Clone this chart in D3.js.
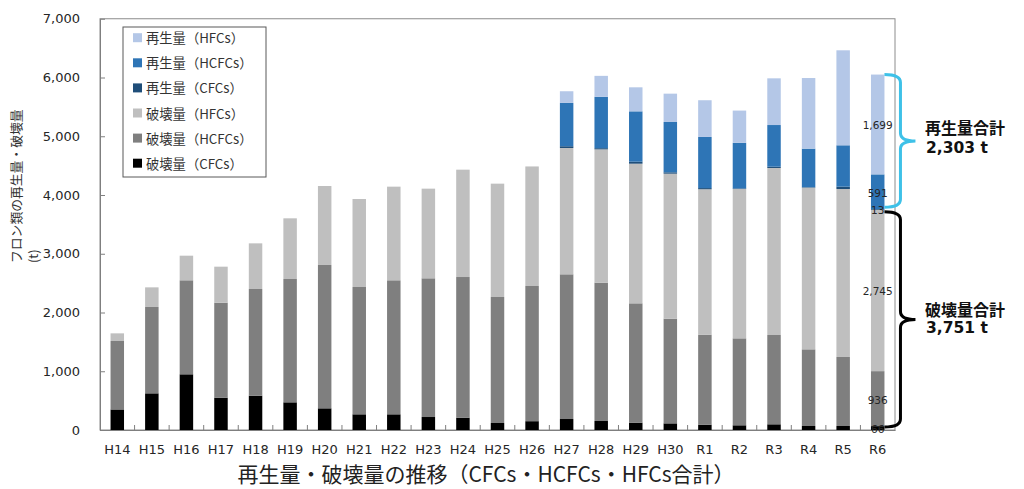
<!DOCTYPE html>
<html><head><meta charset="utf-8">
<script src="https://cdn.jsdelivr.net/npm/d3@7"></script>
<style>body{margin:0;background:#fff}svg{display:block}</style>
</head><body><svg id="c" width="1024" height="489"></svg>
<script>
const categories = ["H14","H15","H16","H17","H18","H19","H20","H21","H22","H23","H24","H25","H26","H27","H28","H29","H30","R1","R2","R3","R4","R5","R6"];
const destroyCFC  = [350,624,948,550,584,471,369,267,267,221,210,119,150,187,153,125,113,91,80,97,68,68,66];
const destroyHCFC = [1165,1470,1600,1617,1816,2099,2440,2167,2281,2361,2394,2145,2301,2463,2355,2031,1782,1532,1480,1520,1305,1175,936];
const destroyHFC  = [130,334,419,613,777,1033,1344,1498,1594,1526,1827,1929,2035,2150,2269,2377,2468,2475,2542,2843,2752,2859,2745];
const regenCFC    = [0,0,0,0,0,0,0,0,0,0,0,0,0,30,20,34,23,20,10,22,8,40,13];
const regenHCFC   = [0,0,0,0,0,0,0,0,0,0,0,0,0,737,874,857,857,870,775,709,656,704,591];
const regenHFC    = [0,0,0,0,0,0,0,0,0,0,0,0,0,199,357,409,482,625,550,795,1202,1617,1699];
const yTicks = [0,1000,2000,3000,4000,5000,6000,7000];
const seriesKeys = ["destroyCFC","destroyHCFC","destroyHFC","regenCFC","regenHCFC","regenHFC"];
const seriesNames = {regenHFC:"再生量（HFCs）",regenHCFC:"再生量（HCFCs）",regenCFC:"再生量（CFCs）",destroyHFC:"破壊量（HFCs）",destroyHCFC:"破壊量（HCFCs）",destroyCFC:"破壊量（CFCs）"};
const legendOrder = ["regenHFC","regenHCFC","regenCFC","destroyHFC","destroyHCFC","destroyCFC"];
const colors = {destroyCFC:"#000000",destroyHCFC:"#7f7f7f",destroyHFC:"#bfbfbf",regenCFC:"#1f4e79",regenHCFC:"#2e75b6",regenHFC:"#b4c7e7"};
const titleText = "再生量・破壊量の推移（CFCs・HCFCs・HFCs合計）";
const yLabelLines = ["フロン類の再生量・破壊量","(t)"];
const totalTitles = ["再生量合計","破壊量合計"];
const totalValues = ["2,303 t","3,751 t"];

const data = categories.map((c,i)=>({cat:c,destroyCFC:destroyCFC[i],destroyHCFC:destroyHCFC[i],destroyHFC:destroyHFC[i],regenCFC:regenCFC[i],regenHCFC:regenHCFC[i],regenHFC:regenHFC[i]}));
const svg = d3.select("#c");
const L=100,R=895,T=18.75,B=430;
const x = d3.scaleBand().domain(categories).range([L,R]).padding(0);
const y = d3.scaleLinear().domain([0,7000]).range([B,T]);
const barW = x.bandwidth()*0.39;
const stacked = d3.stack().keys(seriesKeys)(data);

// plot frame
svg.append("rect").attr("x",L).attr("y",T).attr("width",R-L).attr("height",B-T).attr("fill","none").attr("stroke","#8c8c8c").attr("stroke-width",1);

// bars
svg.append("g").selectAll("g").data(stacked).join("g").attr("fill",d=>colors[d.key])
  .selectAll("rect").data(d=>d).join("rect")
  .attr("x",d=>x(d.data.cat)+x.bandwidth()/2-barW/2).attr("width",barW)
  .attr("y",d=>y(d[1])).attr("height",d=>Math.max(0,y(d[0])-y(d[1])));

// y axis
const ya = svg.append("g").attr("transform",`translate(${L},0)`)
  .call(d3.axisLeft(y).tickValues(yTicks).tickFormat(d3.format(",")).tickSize(-5).tickSizeOuter(0).tickPadding(20));
ya.select(".domain").attr("stroke","#7f7f7f");
ya.selectAll(".tick line").attr("stroke","#7f7f7f");
ya.selectAll("text").attr("font-family","DejaVu Sans, Verdana, sans-serif").attr("font-size",13).attr("fill","#262626");

// x axis
const xa = svg.append("g").attr("transform",`translate(0,${B})`)
  .call(d3.axisBottom(x).tickSize(0).tickPadding(15).tickSizeOuter(0));
xa.select(".domain").attr("stroke","#7f7f7f");
xa.selectAll("text").attr("font-family","DejaVu Sans, Verdana, sans-serif").attr("font-size",13).attr("fill","#262626");
svg.append("g").selectAll("line").data(categories.slice(1)).join("line")
  .attr("x1",d=>x(d)).attr("x2",d=>x(d)).attr("y1",B).attr("y2",B-5).attr("stroke","#7f7f7f");

// y label
yLabelLines.forEach((t,i)=>{
  svg.append("text").attr("transform",`translate(${15+i*17},263) rotate(-90)`)
    .attr("dominant-baseline","central").attr("font-family","Noto Sans CJK JP, sans-serif")
    .attr("font-size",12.8).attr("fill","#333").text(t);
});

// title
svg.append("text").attr("x",486).attr("y",473).attr("text-anchor","middle").attr("dominant-baseline","central")
  .attr("font-family","Noto Sans CJK JP, sans-serif").attr("font-size",21).attr("fill","#222").text(titleText);

// legend
const lg = svg.append("g");
lg.append("rect").attr("x",123).attr("y",27).attr("width",143).attr("height",150).attr("fill","#fff").attr("stroke","#595959").attr("stroke-width",1);
legendOrder.forEach((k,i)=>{
  const cy = 37.7+i*25.1;
  lg.append("rect").attr("x",133).attr("y",cy-4.5).attr("width",9).attr("height",9).attr("fill",colors[k]);
  lg.append("text").attr("x",146).attr("y",cy).attr("dominant-baseline","central")
    .attr("font-family","Noto Sans CJK JP, sans-serif").attr("font-size",13.3).attr("fill","#333").text(seriesNames[k]);
});

// data labels for last category
const last = categories[categories.length-1];
const lastIdx = categories.length-1;
const cx = x(last)+x.bandwidth()/2;
svg.append("g").selectAll("text").data(stacked).join("text")
  .attr("x",cx).attr("y",d=>y((d[lastIdx][0]+d[lastIdx][1])/2)+1)
  .attr("text-anchor","middle").attr("dominant-baseline","central")
  .attr("font-family","DejaVu Sans, Verdana, sans-serif").attr("font-size",10.5).attr("fill","#262626")
  .text(d=>d3.format(",")(d[lastIdx].data[d.key]));

// braces
const sLast = stacked[stacked.length-1][lastIdx][1];
const boundary = stacked[2][lastIdx][1];
const xa0 = cx+barW/2, xb0 = xa0+16, xc0 = xb0+15, r=8;
function brace(y0,y1,ym){
  return `M${xa0},${y0} Q${xb0},${y0} ${xb0},${y0+r} L${xb0},${ym-r} Q${xb0},${ym} ${xc0},${ym} Q${xb0},${ym} ${xb0},${ym+r} L${xb0},${y1-r} Q${xb0},${y1} ${xa0},${y1}`;
}
const c0=y(sLast), c1=y(boundary)-2.5;
svg.append("path").attr("d",brace(c0,c1,(c0+c1)/2)).attr("fill","none").attr("stroke","#3ec1e8").attr("stroke-width",3);
const b0=y(boundary)+2, b1=y(0)-3;
svg.append("path").attr("d",brace(b0,b1,(b0+b1)/2)).attr("fill","none").attr("stroke","#000").attr("stroke-width",3);

// totals
[[127,148],[308.5,328]].forEach((p,i)=>{
  svg.append("text").attr("x",925).attr("y",p[0]).attr("dominant-baseline","central")
    .attr("font-family","Noto Sans CJK JP, sans-serif").attr("font-weight","bold").attr("font-size",16).attr("fill","#111").text(totalTitles[i]);
  svg.append("text").attr("x",926).attr("y",p[1]).attr("dominant-baseline","central")
    .attr("font-family","DejaVu Sans, Verdana, sans-serif").attr("font-weight","bold").attr("font-size",15.5).attr("fill","#111").text(totalValues[i]);
});
</script></body></html>
